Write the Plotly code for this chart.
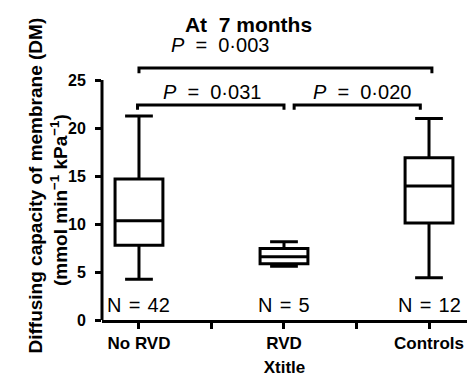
import plotly.graph_objects as go

categories = ["No RVD", "RVD", "Controls"]
lower_whisker = [4.25, 5.6, 4.4]
q1 = [7.8, 5.85, 10.1]
median = [10.35, 6.6, 13.95]
q3 = [14.7, 7.45, 16.9]
upper_whisker = [21.25, 8.15, 21.0]
n_labels = ["N = 42", "N = 5", "N = 12"]
p_values = ["0·003", "0·031", "0·020"]

FONT = "Liberation Sans, Arial, sans-serif"
W, H = 468, 377
L, R, T, B = 102, 1, 40, 57
PW, PH = W - L - R, H - T - B

fig = go.Figure()
for i, c in enumerate(categories):
    fig.add_trace(go.Box(
        x=[i], q1=[q1[i]], median=[median[i]], q3=[q3[i]],
        lowerfence=[lower_whisker[i]], upperfence=[upper_whisker[i]],
        width=0.33, whiskerwidth=0.58, fillcolor="white",
        line=dict(color="black", width=3), boxpoints=False,
        showlegend=False, hoverinfo="skip", name=c))

# y axis line only from 0 to 25
fig.add_shape(type="line", xref="paper", yref="y", x0=0, x1=0, y0=0, y1=25,
              line=dict(color="black", width=3))

def bracket(xa, xb, y, drop):
    fig.add_shape(type="path",
                  path=f"M {xa},{y-drop} L {xa},{y} L {xb},{y} L {xb},{y-drop}",
                  xref="x", yref="y", line=dict(color="black", width=3))

bracket(0, 2.02, 26.25, 0.55)
bracket(-0.01, 1.0, 22.4, 0.5)
bracket(1.07, 1.94, 22.4, 0.5)

p_pos = [(0.559, 28.6), (0.503, 23.75), (1.538, 23.75)]
for (px, py), p in zip(p_pos, p_values):
    fig.add_annotation(x=px, y=py, xref="x", yref="y", showarrow=False,
                       text=f"<i>P</i> \u00a0=\u00a0 {p}",
                       font=dict(family=FONT, size=20, color="black"))

for i, t in enumerate(n_labels):
    fig.add_annotation(x=i, y=1.56, xref="x", yref="y", showarrow=False,
                       text=t.replace(" = ", " \u200a=\u200a "),
                       font=dict(family=FONT, size=20, color="black"))

fig.add_annotation(x=-(L - 23) / PW, y=(H - B - 186) / PH, xref="paper", yref="paper", showarrow=False,
                   text="<b>Diffusing capacity of membrane (DM)</b>", textangle=-90,
                   font=dict(family=FONT, size=19, color="black"))
fig.add_annotation(x=-(L - 45) / PW, y=(H - B - 200) / PH, xref="paper", yref="paper", showarrow=False,
                   text="<b>(mmol min<sup>−1</sup> kPa<sup>−1</sup>)</b>", textangle=-90,
                   font=dict(family=FONT, size=19, color="black"))

fig.update_layout(
    width=W, height=H,
    margin=dict(l=L, r=R, t=T, b=B),
    paper_bgcolor="white", plot_bgcolor="white",
    title=dict(text="<b>At\u00a0 7 months</b>", x=248.5 / W, xanchor="center", y=1 - 24.5 / H, yanchor="middle",
               font=dict(family=FONT, size=21, color="black")),
    xaxis=dict(range=[-0.255, 2.262], tickvals=[0, 1, 2],
               ticktext=[f"<b>{c}</b>" for c in categories],
               showline=True, linecolor="black", linewidth=3, ticks="outside",
               ticklen=6, tickwidth=3, tickcolor="black", showgrid=False, zeroline=False,
               minor=dict(tickvals=[0.5, 1.5], ticks="outside", ticklen=6, tickwidth=3,
                          tickcolor="black", showgrid=False),
               tickfont=dict(family=FONT, size=17, color="black"),
               title=dict(text="<b>Xtitle</b>", font=dict(family=FONT, size=17, color="black"), standoff=10)),
    yaxis=dict(range=[0, 29.17], tickvals=[0, 5, 10, 15, 20, 25],
               ticktext=[f"<b>{v}</b>" for v in [0, 5, 10, 15, 20, 25]],
               showline=False, ticks="outside", ticklen=6, tickwidth=3, tickcolor="black",
               ticklabelstandoff=6,
               showgrid=False, zeroline=False,
               tickfont=dict(family=FONT, size=16, color="black")),
)

fig.write_html("out.html", config={"displayModeBar": False},
               post_script="document.body.style.margin='0';document.body.style.overflow='hidden';")
